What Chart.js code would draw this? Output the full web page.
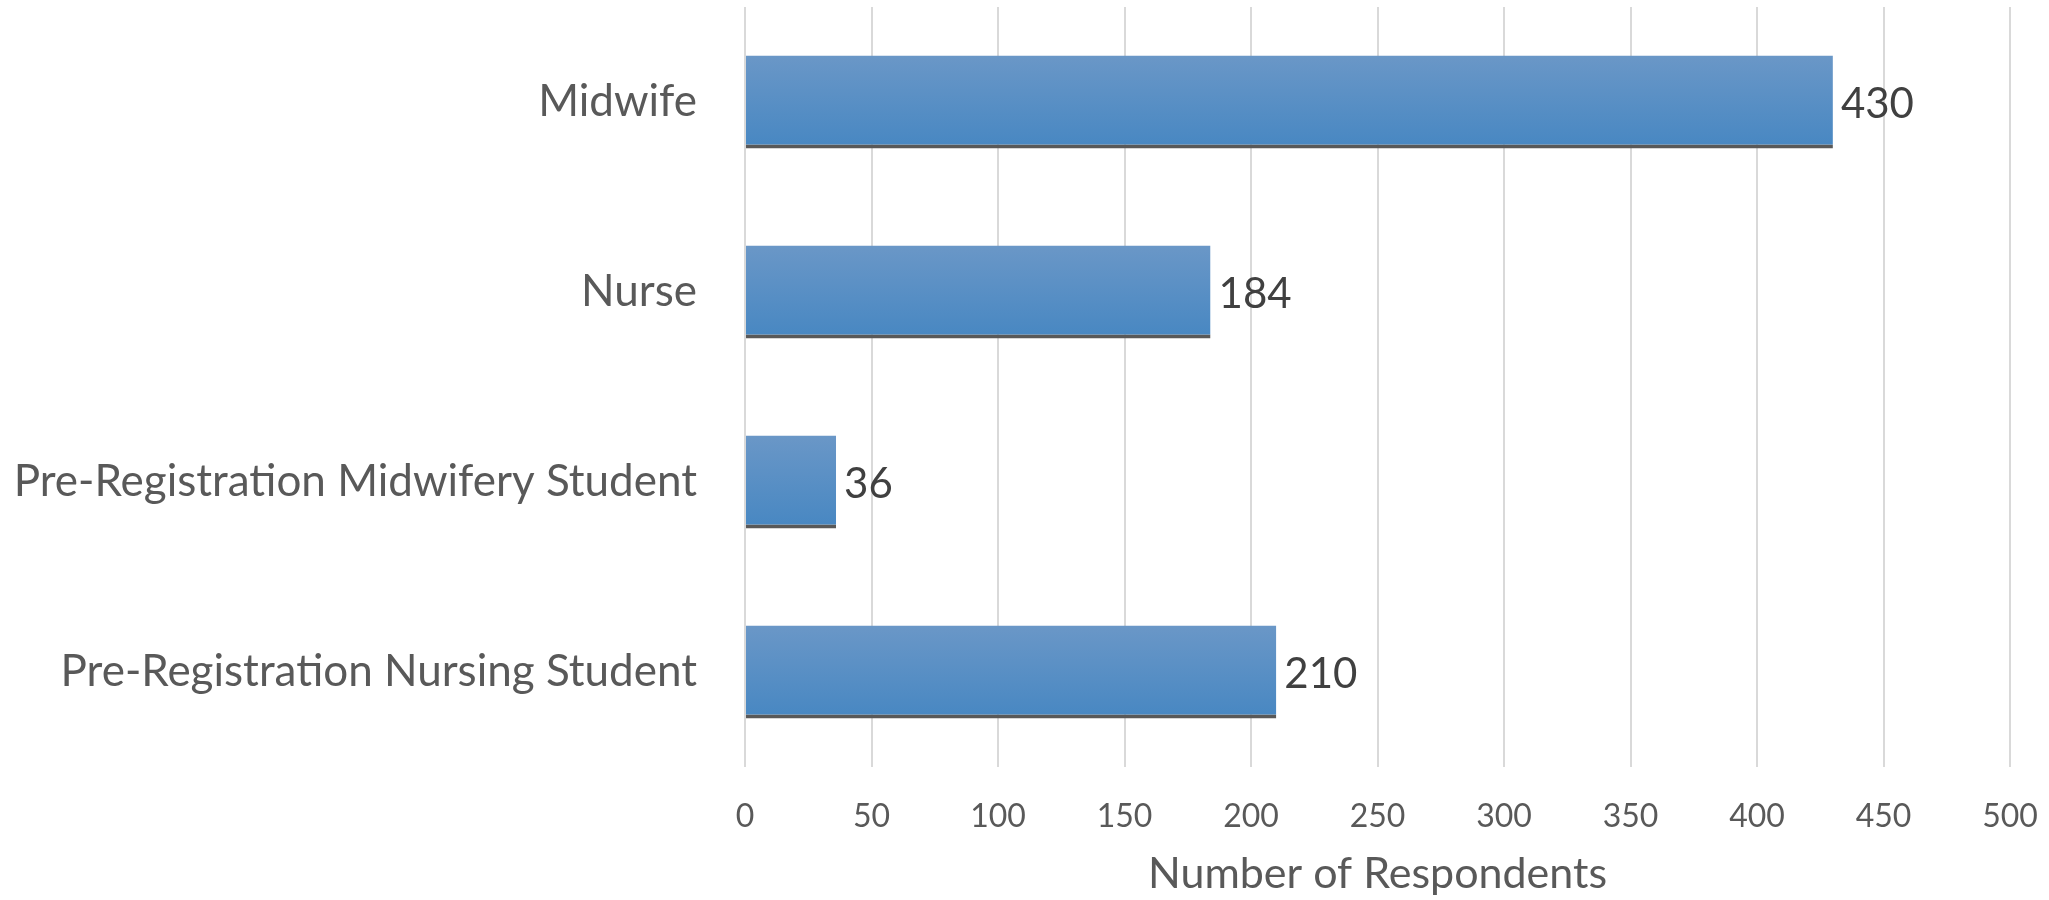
<!DOCTYPE html>
<html>
<head>
<meta charset="utf-8">
<title>Number of Respondents</title>
<script src="https://cdn.jsdelivr.net/npm/chart.js@4.4.1/dist/chart.umd.min.js"></script>
<style>
  html, body { margin: 0; padding: 0; background: #fff; }
  #wrap { width: 2049px; height: 900px; }
</style>
</head>
<body>
<div id="wrap"><canvas id="respChart"></canvas></div>
<script>
// Data
const categories = [
  'Midwife',
  'Nurse',
  'Pre-Registration Midwifery Student',
  'Pre-Registration Nursing Student',
];
const respondents = [430, 184, 36, 210];
const axisTitle = 'Number of Respondents';

const FONT = 'Lato, "Open Sans", sans-serif';
const BAR_PCT = 0.49;

// gradient for each bar, top lighter, bottom darker
function barGradient(context) {
  const chart = context.chart;
  const y = chart.scales.y;
  if (!chart.chartArea || !y || context.dataIndex === undefined) {
    return '#5a8fc5';
  }
  const center = y.getPixelForValue(context.dataIndex);
  const half = (y.height / categories.length) * BAR_PCT / 2;
  const g = chart.ctx.createLinearGradient(0, center - half, 0, center + half);
  g.addColorStop(0, '#6a97c7');
  g.addColorStop(1, '#4787c2');
  return g;
}

// value labels at the end of each bar
const valueLabels = {
  id: 'valueLabels',
  afterDatasetsDraw(chart) {
    const ctx = chart.ctx;
    const meta = chart.getDatasetMeta(0);
    ctx.save();
    ctx.font = '42px ' + FONT;
    ctx.fillStyle = '#404040';
    ctx.textAlign = 'left';
    ctx.textBaseline = 'middle';
    meta.data.forEach((bar, i) => {
      ctx.fillText(String(respondents[i]), bar.x + 8, bar.y + 2);
    });
    ctx.restore();
  },
};

document.addEventListener('DOMContentLoaded', function () {
  const ctx = document.getElementById('respChart');
  new Chart(ctx, {
    type: 'bar',
    data: {
      labels: categories,
      datasets: [
        {
          label: axisTitle,
          data: respondents,
          backgroundColor: barGradient,
          borderColor: '#595959',
          borderWidth: { top: 0, right: 0, bottom: 4, left: 0 },
          borderSkipped: false,
          barPercentage: BAR_PCT,
          categoryPercentage: 1,
        },
      ],
    },
    options: {
      indexAxis: 'y',
      responsive: true,
      maintainAspectRatio: false,
      animation: false,
      layout: { padding: { top: 7, right: 39, bottom: 0, left: 0 } },
      plugins: {
        legend: { display: false },
        tooltip: { enabled: false },
      },
      scales: {
        x: {
          min: 0,
          max: 500,
          ticks: {
            stepSize: 50,
            color: '#595959',
            font: { family: FONT, size: 32 },
            padding: 30,
          },
          grid: { color: '#d9d9d9', lineWidth: 2, drawTicks: false },
          border: { display: false },
          title: {
            display: true,
            text: axisTitle,
            color: '#595959',
            font: { family: FONT, size: 43 },
            padding: { top: 0, bottom: 0 },
          },
          afterFit(scale) {
            scale.height = 133;
            scale.paddingLeft = 0;
            scale.paddingRight = 0;
          },
        },
        y: {
          ticks: {
            color: '#595959',
            font: { family: FONT, size: 44 },
            padding: 48,
          },
          grid: { display: false, drawTicks: false },
          border: { display: false },
          afterFit(scale) {
            scale.width = 745;
            scale.paddingTop = 0;
            scale.paddingBottom = 0;
          },
        },
      },
    },
    plugins: [valueLabels],
  });
});
</script>
</body>
</html>
